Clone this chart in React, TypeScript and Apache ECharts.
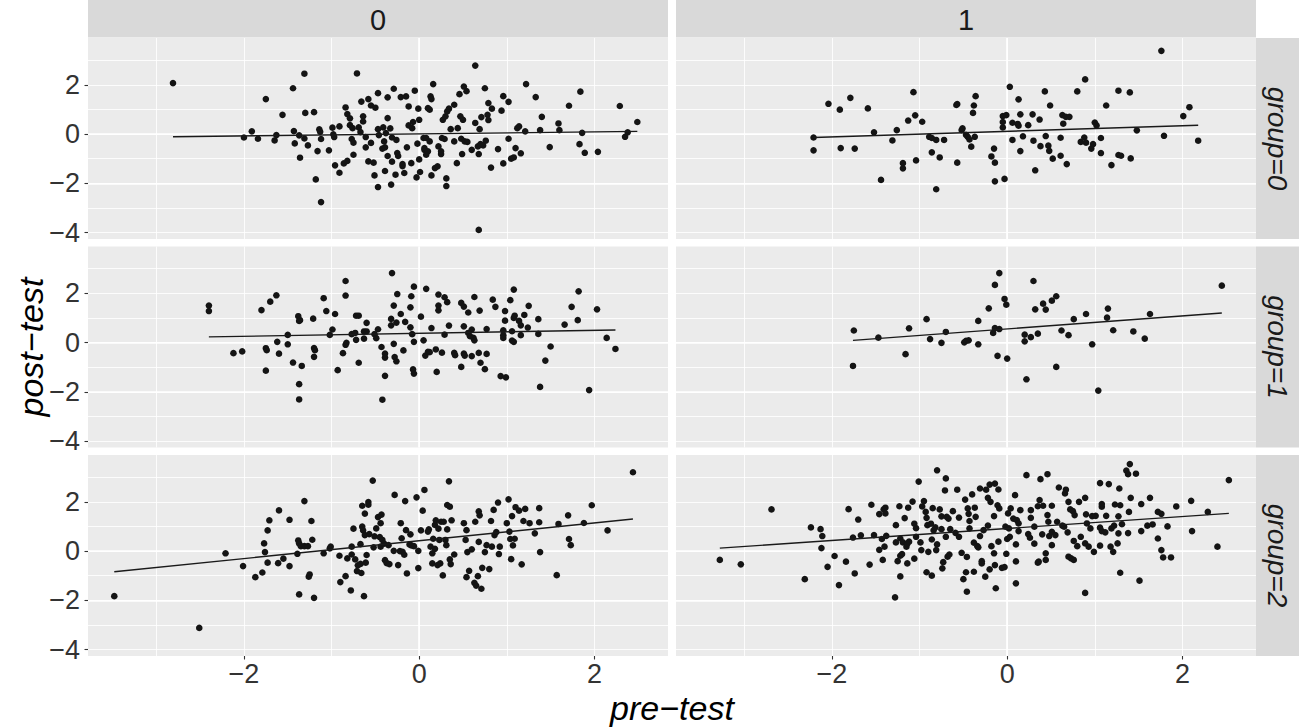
import React, { useEffect, useRef } from "react";
import * as echarts from "echarts";

type P = [number, number];

// ---- data ----
const colLabels = ["0", "1"];
const rowLabels = ["group=0", "group=1", "group=2"];
const xTicks = [-2, 0, 2];
const yTicks = [-4, -2, 0, 2];
const xRange = [-3.78, 2.84];
const yRange = [-4.26, 3.9];

const g0c0: P[] = [
  [-2.81,2.07],[-2.00,-0.14],[-1.91,0.11],[-1.84,-0.19],[-1.75,1.42],[-1.65,-0.26],[-1.63,-0.04],[-1.56,0.78],[-1.44,1.86],[-1.43,0.12],[-1.42,-0.38],[-1.37,-0.05],[-1.36,-0.96],[-1.31,-0.18],[-1.31,2.45],[-1.30,0.86],[-1.27,-0.46],[-1.20,0.89],[-1.18,-1.84],[-1.16,-0.69],[-1.14,0.19],[-1.13,0.09],[-1.12,-0.20],[-1.12,-2.76],[-1.03,-0.66],[-0.99,0.26],[-0.98,-0.01],[-0.97,-0.12],[-0.96,-1.27],[-0.91,-1.57],[-0.91,0.31],[-0.86,-1.19],[-0.84,1.08],[-0.82,-1.09],[-0.82,0.81],[-0.79,0.64],[-0.79,0.36],[-0.77,-0.20],[-0.76,0.24],[-0.75,-0.35],[-0.75,-0.84],[-0.71,2.46],[-0.69,0.27],[-0.67,0.08],[-0.66,1.32],[-0.64,0.72],[-0.64,0.51],[-0.61,-0.12],[-0.61,-0.54],[-0.58,1.42],[-0.58,-1.11],[-0.55,-0.36],[-0.55,1.16],[-0.52,-1.16],[-0.51,-1.68],[-0.50,1.07],[-0.47,0.20],[-0.47,1.66],[-0.47,-2.15],[-0.46,-0.04],[-0.42,-0.59],[-0.41,0.27],[-0.40,-0.30],[-0.39,-1.50],[-0.39,-0.54],[-0.38,0.04],[-0.36,1.49],[-0.36,-0.89],[-0.36,0.65],[-0.33,0.23],[-0.32,-2.05],[-0.31,-0.14],[-0.31,-1.12],[-0.29,1.84],[-0.27,-1.65],[-0.26,-0.24],[-0.25,-0.77],[-0.24,-0.89],[-0.21,1.50],[-0.19,-1.30],[-0.19,-1.22],[-0.17,-1.58],[-0.15,1.53],[-0.14,-0.54],[-0.12,1.12],[-0.12,0.35],[-0.09,-1.18],[-0.08,0.24],[-0.07,0.49],[-0.05,1.76],[-0.03,-1.76],[-0.02,-0.39],[-0.01,1.03],[0.00,0.58],[0.00,-1.03],[0.01,-1.54],[0.05,-0.16],[0.06,-0.64],
  [0.16,2.03],[0.13,1.53],[0.14,1.42],[0.10,1.05],[0.12,0.99],[0.08,-0.16],[0.12,-0.30],[0.06,-0.57],[0.10,-0.70],[0.08,-0.84],[0.14,-1.68],[0.18,-1.38],[0.21,-1.31],[0.22,-0.50],[0.25,-0.81],[0.25,-0.70],[0.27,0.58],[0.30,0.72],[0.32,0.92],[0.34,1.03],[0.26,-0.16],[0.29,-0.20],[0.31,-1.80],[0.31,-2.11],[0.36,0.20],[0.40,1.19],[0.40,-0.30],[0.43,-1.18],[0.44,0.24],[0.46,1.62],[0.47,0.72],[0.48,-0.19],[0.49,-0.81],[0.50,0.58],[0.51,1.93],[0.52,-0.30],[0.54,1.74],[0.55,-0.32],[0.60,-0.64],[0.64,0.45],[0.64,2.78],[0.67,-0.50],[0.68,-0.81],[0.69,0.20],[0.70,-0.41],[0.71,0.69],[0.73,-0.46],[0.75,1.86],[0.76,-0.27],[0.78,0.78],[0.79,1.26],[0.79,0.57],[0.82,-1.36],[0.83,1.03],[0.68,-3.89],[0.90,-0.61],[0.94,0.95],[0.96,1.54],[0.96,-1.19],[1.02,1.31],[1.02,-0.19],[1.05,-1.00],[1.08,-0.95],[1.10,-0.57],[1.12,0.24],[1.14,0.31],[1.16,-0.78],[1.22,2.03],[1.21,0.11],[1.33,1.50],[1.38,0.16],[1.40,0.70],[1.49,-0.53],[1.59,0.43],[1.60,0.16],[1.71,1.15],[1.83,-0.41],[1.84,1.72],[1.86,0.05],[1.89,-0.76],[2.04,-0.72],[2.29,1.14],[2.35,-0.11],[2.38,0.07],[2.49,0.49],
];

const g0c1: P[] = [
  [-2.04,1.23],[-1.91,0.99],[-2.21,-0.14],[-2.21,-0.66],[-1.90,-0.57],
  [-1.79,1.47],[-1.74,-0.59],[-1.59,1.04],[-1.52,0.07],[-1.44,-1.86],[-1.31,-0.26],[-1.26,0.16],[-1.19,-1.18],[-1.19,-1.39],[-1.13,0.55],[-1.07,1.70],[-1.05,0.76],[-1.04,-1.07],[-0.97,0.50],[-0.89,-0.11],[-0.86,-0.16],[-0.86,-0.74],[-0.81,-0.24],[-0.81,-2.24],[-0.77,-0.95],[-0.72,-0.24],[-0.58,1.18],[-0.57,1.22],[-0.57,-1.16],[-0.52,0.16],[-0.51,0.23],[-0.47,-0.03],[-0.45,-0.11],[-0.43,-0.22],[-0.41,-0.51],[-0.39,0.86],[-0.38,1.16],[-0.37,-0.11],[-0.36,1.54],[-0.18,-0.91],[-0.15,-0.59],[-0.14,-1.16],[-0.14,-1.92],[-0.05,0.49],[-0.05,0.27],[-0.05,0.73],[-0.03,-1.82],[-0.01,0.77],[0.03,1.92],[0.06,0.46],[0.06,-0.24],[0.12,0.41],[0.13,1.41],[0.13,0.34],[0.15,0.80],[0.15,-0.69],[0.18,-0.09],[0.24,0.36],[0.29,0.80],[0.30,-0.27],[0.32,-1.47],[0.37,0.59],[0.38,-0.49],[0.43,1.73],[0.44,-0.08],[0.47,-0.47],[0.48,-0.68],[0.49,1.16],[0.52,-1.00],[0.61,-0.15],[0.61,-0.88],[0.63,0.77],[0.64,0.42],[0.67,0.70],[0.68,-1.22],[0.71,0.70],[0.80,1.73],[0.84,-0.32],[0.88,-0.14],[0.89,2.22],[0.90,-0.35],[0.96,-0.59],[0.98,-0.41],[1.00,0.47],[1.02,0.35],[1.07,-0.16],[1.07,-0.77],[1.13,1.16],[1.19,-1.26],[1.27,1.76],[1.27,-0.85],[1.30,-0.88],[1.40,1.69],[1.41,-0.99],[1.48,0.15],[1.76,3.38],[1.79,-0.07],[2.01,0.73],[2.08,1.09],[2.18,-0.27],
];

const g1c0: P[] = [
  [-2.40,1.50],[-2.40,1.28],[-2.12,-0.43],[-2.02,-0.36],[-1.80,1.32],[-1.75,-1.14],[-1.75,-0.23],[-1.74,-0.31],[-1.70,1.66],[-1.63,1.92],[-1.62,0.03],[-1.60,-0.45],[-1.50,-0.07],[-1.50,0.31],[-1.44,-0.81],[-1.38,1.07],[-1.37,0.88],[-1.36,0.91],[-1.37,-1.69],[-1.37,-2.31],[-1.34,-0.95],[-1.21,0.97],[-1.20,-0.22],[-1.19,-0.31],[-1.20,-0.58],[-1.09,1.80],[-1.06,1.28],[-1.02,0.31],[-0.99,0.53],[-0.96,1.16],[-0.93,-1.12],[-0.87,-0.43],[-0.84,2.50],[-0.84,1.91],[-0.84,-0.09],[-0.83,-0.01],[-0.77,0.34],[-0.73,0.39],[-0.72,0.11],[-0.72,1.09],[-0.69,1.09],[-0.69,-0.82],[-0.63,0.45],[-0.63,0.16],[-0.60,0.80],[-0.60,0.45],[-0.51,0.34],[-0.49,0.18],[-0.47,0.54],[-0.43,-0.18],[-0.39,-0.45],[-0.39,-0.61],[-0.39,-1.35],[-0.42,-2.32],[-0.32,0.96],[-0.32,0.70],[-0.29,1.50],[-0.31,2.82],[-0.29,-0.05],[-0.28,-0.59],[-0.26,0.81],[-0.26,-0.76],[-0.25,1.97],[-0.21,1.16],[-0.18,-0.32],[-0.16,0.84],[-0.10,1.43],[-0.10,0.62],[-0.09,1.88],[-0.08,0.34],[-0.07,-1.09],[-0.06,-1.26],[-0.06,0.03],[-0.06,2.27],[0.02,1.05],[0.05,0.09],[0.07,-0.53],[0.08,2.18],[0.10,-0.38],[0.14,0.59],[0.12,-0.39],[0.19,-0.28],[0.20,-1.19],[0.22,1.95],[0.22,1.50],[0.22,1.31],
  [0.29,1.84],[0.32,1.64],[0.34,0.69],[0.29,0.32],[0.26,-0.41],[0.40,-0.42],[0.41,-0.51],[0.48,-0.99],[0.48,1.61],[0.51,1.46],[0.51,0.66],[0.51,-0.45],[0.52,-0.53],[0.56,1.22],[0.56,0.39],[0.58,0.26],[0.60,0.53],[0.60,-0.55],[0.62,0.19],[0.63,0.09],[0.63,1.85],[0.68,-0.42],[0.69,1.30],[0.70,-0.82],[0.75,-1.08],[0.77,-0.46],[0.77,0.55],[0.84,1.74],[0.87,1.45],[0.93,-1.36],[0.99,-1.41],[0.96,0.50],[0.96,0.30],[0.96,0.19],[0.98,1.28],[0.98,0.89],[1.04,1.72],[1.06,0.46],[1.06,0.08],[1.08,0.03],[1.08,1.00],[1.09,1.09],[1.08,2.15],[1.14,0.88],[1.16,0.70],[1.16,0.30],[1.20,1.12],[1.24,0.61],[1.25,1.49],[1.36,0.95],[1.36,0.35],[1.38,-1.80],[1.44,-0.73],[1.50,-0.16],[1.66,0.73],[1.74,1.45],[1.81,0.91],[1.82,2.08],[1.94,-1.93],[2.03,1.35],[2.14,0.19],[2.24,-0.26],
];

const g1c1: P[] = [
  [-1.75,0.49],[-1.76,-0.95],[-1.47,0.20],[-1.16,-0.47],[-1.12,0.58],[-0.92,0.95],[-0.88,0.14],[-0.75,-0.01],[-0.70,0.43],[-0.49,0.01],[-0.47,0.07],[-0.44,0.09],[-0.33,-0.07],[-0.33,0.88],[-0.21,1.39],[-0.16,0.39],[-0.14,0.59],[-0.14,2.34],[-0.11,-0.54],[-0.09,0.55],[-0.09,2.82],[-0.03,1.77],[-0.01,1.54],[0.00,-0.65],[0.20,0.32],[0.20,0.05],[0.22,-1.49],[0.27,0.22],[0.30,2.50],[0.32,1.35],[0.35,0.36],[0.41,1.58],[0.44,1.34],[0.51,1.70],[0.56,1.88],[0.56,-0.99],[0.62,0.49],[0.70,0.30],[0.76,0.95],[0.90,1.16],[0.97,-0.07],[1.04,-1.95],[1.14,1.01],[1.15,1.38],[1.21,0.50],[1.44,0.45],[1.57,0.16],[1.63,1.16],[2.45,2.31],
];

const g2c0: P[] = [
  [-3.48,-1.83],[-2.51,-3.12],[-2.21,-0.09],[-2.01,-0.61],[-1.87,-1.06],[-1.79,-0.87],[-1.77,0.31],[-1.76,-0.04],[-1.73,-0.47],[-1.73,0.84],[-1.71,1.25],[-1.61,-0.49],[-1.60,1.65],[-1.55,-0.31],[-1.48,-0.61],[-1.48,1.27],[-1.39,-0.11],[-1.38,0.43],[-1.37,-1.76],[-1.37,0.31],[-1.35,0.20],[-1.31,2.03],[-1.31,0.20],[-1.27,0.20],[-1.26,-1.04],[-1.25,-0.95],[-1.23,1.22],[-1.22,0.46],[-1.20,-1.90],[-1.09,-0.09],[-1.02,0.11],[-1.01,0.18],[-0.91,-0.19],[-0.90,-1.26],[-0.84,-1.02],[-0.82,-0.30],[-0.78,-1.60],[-0.77,0.18],[-0.77,-0.14],[-0.75,0.91],[-0.73,-0.34],[-0.71,-0.81],[-0.70,-0.58],[-0.67,-0.52],[-0.67,0.28],[-0.66,-0.89],[-0.65,1.84],[-0.65,0.99],[-0.64,0.84],[-0.63,-1.83],[-0.62,0.65],[-0.62,1.52],[-0.61,-0.47],[-0.60,-0.16],[-0.58,1.99],[-0.58,1.88],[-0.57,0.69],[-0.53,2.86],[-0.52,0.15],[-0.51,0.60],[-0.49,0.92],[-0.47,1.38],[-0.45,0.57],[-0.44,1.13],[-0.44,0.18],[-0.43,1.48],[-0.42,0.45],[-0.40,0.30],[-0.39,-0.37],[-0.37,-0.49],[-0.35,0.24],[-0.34,-0.53],[-0.29,0.01],[-0.28,2.28],[-0.24,-0.57],[-0.22,0.00],[-0.21,1.13],[-0.20,0.52],[-0.19,-0.03],[-0.17,-0.15],[-0.16,2.03],[-0.15,0.85],[-0.14,-0.91],[-0.11,0.27],[-0.10,0.68],[-0.09,0.23],[-0.06,0.20],[-0.03,2.18],[-0.01,0.01],[-0.01,-0.69],[0.02,0.84],[0.04,1.64],[0.06,2.48],[0.10,0.79],[0.11,0.88],[0.13,0.18],[0.15,-0.50],[0.15,-0.09],[0.16,0.50],[0.18,1.06],[0.18,0.09],[0.19,1.25],[0.21,-0.57],[0.22,0.91],[0.23,0.45],[0.24,-0.50],[0.25,1.19],[0.27,-0.99],[0.28,1.19],[0.30,0.45],[0.31,0.24],[0.32,0.88],[0.32,1.87],[0.34,2.83],[0.35,1.80],[0.35,-0.34],[0.36,-0.53],[0.37,1.25],[0.40,-0.14],[0.51,1.13],[0.53,0.45],[0.54,0.85],[0.54,-1.06],[0.55,-0.04],[0.57,-0.80],[0.60,0.07],[0.63,-1.29],[0.64,1.19],[0.65,-1.40],[0.67,-1.02],[0.68,1.61],[0.68,0.37],[0.69,1.45],[0.71,-1.53],[0.72,-0.68],[0.75,-0.04],[0.77,0.24],[0.80,-0.73],[0.82,1.22],[0.83,0.18],[0.85,1.67],[0.86,0.65],[0.88,0.77],[0.90,1.97],[0.91,-0.12],[0.92,0.18],[1.00,1.13],[1.02,2.10],[1.03,0.79],[1.04,0.49],[1.05,-0.33],[1.06,1.42],[1.07,0.23],[1.09,0.50],[1.10,1.78],[1.14,1.64],[1.17,-0.54],[1.19,1.22],[1.21,1.71],[1.26,1.13],[1.32,0.72],[1.37,1.74],[1.37,1.17],[1.38,-0.04],[1.57,-0.98],[1.59,1.10],[1.70,1.45],[1.71,0.49],[1.73,0.24],[1.88,1.14],[1.97,1.86],[2.15,0.84],[2.44,3.20],
];

const g2c1: P[] = [
  [-3.28,-0.36],[-3.04,-0.54],[-2.69,1.69],[-2.31,-1.14],[-2.24,0.96],[-2.13,0.89],[-2.11,0.61],[-2.12,0.12],[-2.05,-0.64],[-1.97,-0.20],[-1.92,-1.38],[-1.84,-0.43],[-1.81,1.70],[-1.76,0.55],[-1.74,-0.91],[-1.70,1.28],[-1.67,0.64],[-1.57,-0.55],[-1.55,1.88],[-1.52,0.65],[-1.46,1.50],[-1.46,0.05],[-1.43,0.49],[-1.42,-0.36],[-1.41,1.69],[-1.40,0.18],[-1.39,1.76],[-1.39,1.53],[-1.38,0.62],[-1.28,-1.88],[-1.27,1.05],[-1.27,0.35],[-1.25,-0.41],[-1.23,1.82],[-1.22,-0.19],[-1.22,0.51],[-1.22,-1.03],[-1.20,-0.12],[-1.19,0.35],[-1.17,1.34],[-1.15,0.18],[-1.14,0.30],[-1.14,-0.50],[-1.13,1.76],[-1.12,0.38],[-1.08,2.01],[-1.06,-0.31],[-1.06,1.11],[-1.04,0.93],[-1.04,0.58],[-1.01,2.82],[-0.99,0.35],[-0.98,0.04],[-0.97,1.81],[-0.95,2.03],[-0.93,1.59],[-0.92,1.35],[-0.92,-0.86],[-0.91,1.05],[-0.90,-0.03],[-0.87,1.11],[-0.86,-1.00],[-0.86,0.47],[-0.85,1.74],[-0.84,0.84],[-0.82,0.96],[-0.81,0.04],[-0.80,0.27],[-0.80,3.28],[-0.77,1.69],[-0.75,0.89],[-0.75,1.41],[-0.74,-0.70],[-0.73,-0.45],[-0.71,2.46],[-0.70,2.95],[-0.70,0.58],[-0.69,1.39],[-0.68,-0.23],[-0.67,1.32],[-0.66,-0.14],[-0.65,0.89],[-0.62,1.62],[-0.59,0.74],[-0.57,2.49],[-0.55,1.36],[-0.55,0.58],[-0.52,-0.07],[-0.50,-1.14],[-0.48,2.09],[-0.47,-0.86],[-0.46,-0.24],[-0.46,-1.65],[-0.45,1.73],[-0.44,1.51],[-0.43,0.92],[-0.43,1.22],[-0.40,2.30],[-0.38,0.34],[-0.38,-0.84],[-0.37,1.76],[-0.36,1.39],[-0.34,0.20],[-0.33,0.15],[-0.31,2.54],[-0.31,0.61],[-0.29,-0.41],[-0.29,-0.50],[-0.27,0.85],[-0.25,-1.04],[-0.24,2.49],[-0.22,1.03],[-0.22,2.16],[-0.20,2.70],[-0.20,-0.74],[-0.19,2.00],[-0.18,0.20],[-0.15,-0.09],[-0.15,1.42],[-0.14,-0.57],[-0.14,2.74],[-0.13,-1.51],[-0.10,0.38],[-0.11,1.86],[-0.10,2.50],[-0.09,1.73],
  [-0.06,-0.68],[-0.03,-0.65],[-0.01,-0.11],[0.00,0.49],[0.03,0.58],[-0.02,0.99],[0.02,0.92],[0.01,1.53],[0.04,1.73],[0.09,2.27],[0.10,-1.31],[0.10,-0.42],[0.10,0.27],[0.07,1.32],[0.11,1.26],[0.13,1.12],[0.13,0.81],[0.15,1.66],[0.22,3.08],[0.24,0.69],[0.26,0.54],[0.27,1.66],[0.27,1.35],[0.31,0.30],[0.31,0.99],[0.35,-0.47],[0.36,-0.43],[0.35,1.82],[0.37,2.07],[0.38,2.92],[0.40,0.68],[0.41,1.84],[0.44,-0.36],[0.44,-0.09],[0.46,3.12],[0.46,1.46],[0.47,1.19],[0.48,0.61],[0.51,0.24],[0.51,1.84],[0.51,0.78],[0.55,0.65],[0.57,1.19],[0.59,2.58],[0.63,1.03],[0.65,0.99],[0.66,2.34],[0.67,2.49],[0.69,0.76],[0.70,2.00],[0.70,-0.23],[0.72,1.69],[0.73,-0.30],[0.75,1.62],[0.76,-0.36],[0.76,0.41],[0.77,1.46],[0.80,0.20],[0.82,2.00],[0.84,0.58],[0.89,-1.70],[0.89,2.16],[0.89,0.31],[0.90,1.49],[0.91,1.12],[0.93,0.18],[0.95,0.92],[0.97,1.42],[0.99,-0.03],[1.01,1.43],[1.06,2.76],[1.06,0.95],[1.06,0.22],[1.08,1.80],[1.08,1.91],[1.08,0.81],[1.12,0.76],[1.13,1.43],[1.16,2.72],[1.18,0.18],[1.19,0.92],[1.21,-0.03],[1.22,1.03],[1.23,1.89],[1.26,0.31],[1.27,1.41],[1.28,2.54],[1.27,0.72],[1.29,1.86],[1.29,-0.88],[1.31,1.09],[1.36,3.27],[1.38,3.12],[1.40,3.53],[1.38,0.73],[1.39,1.59],[1.41,2.16],[1.47,3.14],[1.51,-1.20],[1.53,0.81],[1.53,1.91],[1.60,1.03],[1.63,2.16],[1.66,1.08],[1.72,0.51],[1.72,1.59],[1.76,1.51],[1.76,0.04],[1.78,-0.26],[1.83,1.00],[1.87,-0.26],[1.93,1.81],[2.10,2.04],[2.11,0.81],[2.29,1.59],[2.40,0.18],[2.53,2.88],
];

// row-major panels: [group0 col0, group0 col1, group1 col0, ...]
const panels: P[][] = [g0c0, g0c1, g1c0, g1c1, g2c0, g2c1];
// fitted regression line per panel: [intercept, slope]
const fitLines: P[] = [
  [0.007, 0.0415], [0.112, 0.114],
  [0.375, 0.0603], [0.555, 0.264],
  [0.418, 0.3615], [0.916, 0.2427],
];

// ---- layout ----
const COL_LEFT = [88, 676];
const PANEL_W = 580;
const ROW_TOP = [38, 246.5, 455];
const PANEL_H = 201;
const FONT = "'Liberation Sans', Arial, Helvetica, sans-serif";

const fmt = (v: number) => (v < 0 ? "\u2212" + Math.abs(v) : String(v));

function buildOption() {
  const grid: any[] = [];
  const xAxis: any[] = [];
  const yAxis: any[] = [];
  const series: any[] = [];
  const graphic: any[] = [];

  for (let p = 0; p < 6; p++) {
    const r = Math.floor(p / 2);
    const c = p % 2;
    grid.push({
      left: COL_LEFT[c], top: ROW_TOP[r], width: PANEL_W, height: PANEL_H,
      show: true, backgroundColor: "#EBEBEB", borderWidth: 0, containLabel: false,
      outerBoundsMode: "none",
    });
    const showX = r === 2;
    const showY = c === 0;
    // major x
    xAxis.push({
      type: "value", gridIndex: p, min: xRange[0], max: xRange[1],
      minInterval: 2, maxInterval: 2,
      axisLine: { show: false, onZero: false },
      axisTick: { show: showX, length: 3.5, customValues: xTicks, lineStyle: { color: "#333333", width: 1.1 } },
      axisLabel: {
        show: showX, customValues: xTicks,
        formatter: fmt, color: "#333333", fontSize: 27, fontFamily: FONT, margin: 4,
      },
      splitLine: { show: true, showMinLine: false, showMaxLine: false, lineStyle: { color: "#FFFFFF", width: 1.7 } },
    });
    // minor x
    xAxis.push({
      type: "value", gridIndex: p, min: xRange[0], max: xRange[1],
      minInterval: 1, maxInterval: 1,
      axisLine: { show: false, onZero: false }, axisTick: { show: false }, axisLabel: { show: false },
      splitLine: { show: true, showMinLine: false, showMaxLine: false, lineStyle: { color: "#FFFFFF", width: 0.85 } },
    });
    yAxis.push({
      type: "value", gridIndex: p, min: yRange[0], max: yRange[1],
      minInterval: 2, maxInterval: 2,
      axisLine: { show: false, onZero: false },
      axisTick: { show: showY, length: 3.5, customValues: yTicks, lineStyle: { color: "#333333", width: 1.1 } },
      axisLabel: {
        show: showY, customValues: yTicks,
        formatter: fmt, color: "#333333", fontSize: 27, fontFamily: FONT, margin: 8,
      },
      splitLine: { show: true, showMinLine: false, showMaxLine: false, lineStyle: { color: "#FFFFFF", width: 1.7 } },
    });
    yAxis.push({
      type: "value", gridIndex: p, min: yRange[0], max: yRange[1],
      minInterval: 1, maxInterval: 1,
      axisLine: { show: false, onZero: false }, axisTick: { show: false }, axisLabel: { show: false },
      splitLine: { show: true, showMinLine: false, showMaxLine: false, lineStyle: { color: "#FFFFFF", width: 0.85 } },
    });

    const pts = panels[p];
    series.push({
      type: "scatter", xAxisIndex: 2 * p, yAxisIndex: 2 * p, data: pts,
      symbol: "circle", symbolSize: 6.6, itemStyle: { color: "#141414", opacity: 1 },
      z: 3, silent: true,
    });
    const xs = pts.map((d) => d[0]);
    const x0 = Math.min(...xs);
    const x1 = Math.max(...xs);
    const [a, b] = fitLines[p];
    series.push({
      type: "line", xAxisIndex: 2 * p, yAxisIndex: 2 * p,
      data: [[x0, a + b * x0], [x1, a + b * x1]],
      showSymbol: false, symbol: "none", lineStyle: { color: "#1A1A1A", width: 1.4 },
      z: 4, silent: true,
    });
  }

  // top strips
  for (let c = 0; c < 2; c++) {
    graphic.push({
      type: "rect", shape: { x: COL_LEFT[c], y: 0, width: PANEL_W, height: 37.5 },
      style: { fill: "#D9D9D9" }, silent: true,
    });
    graphic.push({
      type: "text", x: COL_LEFT[c] + PANEL_W / 2, y: 20,
      style: { text: colLabels[c], fontSize: 29, fontFamily: FONT, fill: "#1A1A1A", align: "center", verticalAlign: "middle" },
      silent: true,
    });
  }
  // right strips
  for (let r = 0; r < 3; r++) {
    graphic.push({
      type: "rect", shape: { x: COL_LEFT[1] + PANEL_W, y: ROW_TOP[r], width: 1299 - (COL_LEFT[1] + PANEL_W), height: PANEL_H },
      style: { fill: "#D9D9D9" }, silent: true,
    });
    graphic.push({
      type: "text", x: 1277.5, y: ROW_TOP[r] + PANEL_H / 2, rotation: -Math.PI / 2,
      style: { text: rowLabels[r], fontSize: 28, fontFamily: FONT, fontStyle: "italic", fill: "#1A1A1A", align: "center", verticalAlign: "middle" },
      silent: true,
    });
  }
  // axis titles
  graphic.push({
    type: "text", x: (COL_LEFT[0] + COL_LEFT[1] + PANEL_W) / 2, y: 708,
    style: { text: "pre\u2212test", fontSize: 34, fontFamily: FONT, fontStyle: "italic", fill: "#000000", align: "center", verticalAlign: "middle" },
    silent: true,
  });
  graphic.push({
    type: "text", x: 31, y: (ROW_TOP[0] + ROW_TOP[2] + PANEL_H) / 2, rotation: Math.PI / 2,
    style: { text: "post\u2212test", fontSize: 34, fontFamily: FONT, fontStyle: "italic", fill: "#000000", align: "center", verticalAlign: "middle" },
    silent: true,
  });

  return {
    animation: false,
    backgroundColor: "#FFFFFF",
    grid, xAxis, yAxis, series, graphic,
  };
}

export default function App() {
  const ref = useRef<HTMLDivElement>(null);
  useEffect(() => {
    if (!ref.current) return;
    const chart = echarts.init(ref.current, undefined, { renderer: "svg" });
    chart.setOption(buildOption() as any);
    return () => chart.dispose();
  }, []);
  return (
    <div
      ref={ref}
      style={{ position: "fixed", left: 0, top: 0, width: 1299, height: 728, background: "#fff" }}
    />
  );
}
